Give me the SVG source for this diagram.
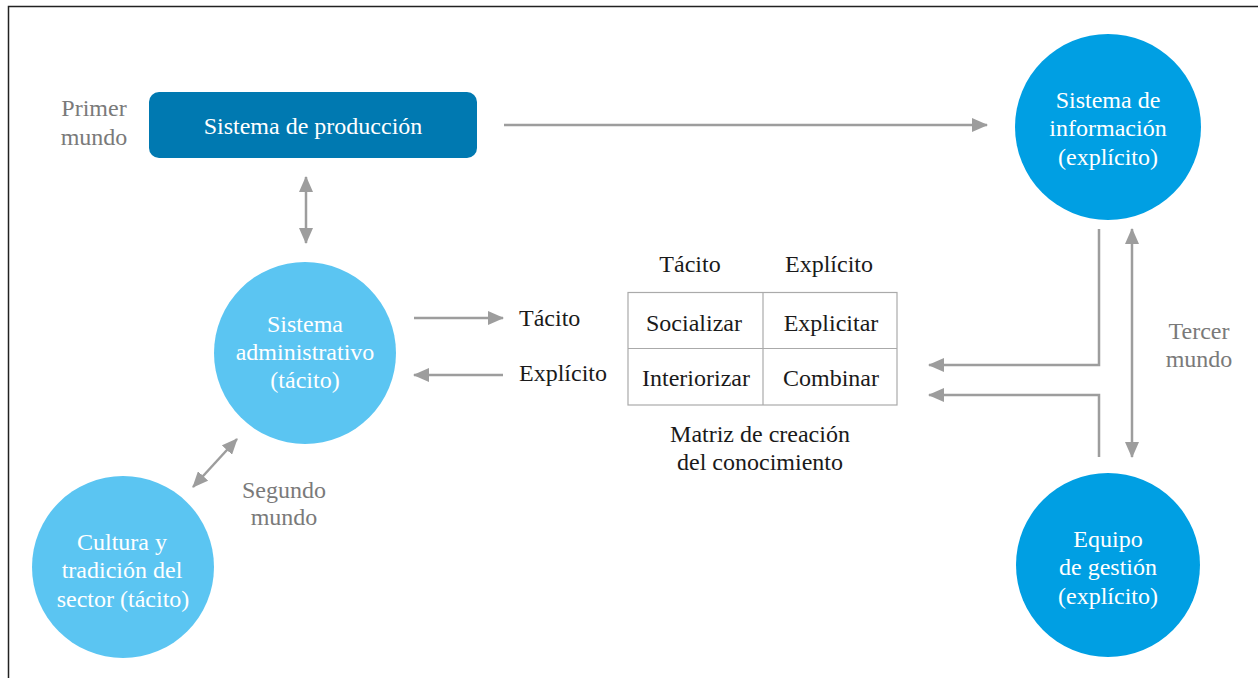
<svg xmlns="http://www.w3.org/2000/svg" width="1258" height="678" viewBox="0 0 1258 678">
<defs>
<marker id="ah" viewBox="0 0 16 14" refX="15" refY="7" markerWidth="16" markerHeight="14" markerUnits="userSpaceOnUse" orient="auto-start-reverse">
<path d="M0,0 L16,7 L0,14 Z" fill="#9d9d9d"/>
</marker>
</defs>
<style>
text{font-family:'Liberation Serif',Tinos,'Times New Roman','DejaVu Serif',serif;font-size:24px;text-anchor:middle}
.w{fill:#ffffff}
.k{fill:#1a1a1a}
.g{fill:#7a7a7a}
.s{text-anchor:start}
.c{stroke:#9d9d9d;stroke-width:2.5;fill:none}
.t{stroke:#aaaaaa;stroke-width:1.2;fill:none}
</style>
<rect width="1258" height="678" fill="#ffffff"/>
<path d="M8.5,678 V6.5 H1258" stroke="#222" stroke-width="1.5" fill="none"/>

<g id="connectors">
<line class="c" x1="504" y1="125" x2="987" y2="125" marker-end="url(#ah)"/>
<line class="c" x1="306" y1="177" x2="306" y2="243" marker-start="url(#ah)" marker-end="url(#ah)"/>
<line class="c" x1="414" y1="318" x2="503" y2="318" marker-end="url(#ah)"/>
<line class="c" x1="503" y1="375" x2="414" y2="375" marker-end="url(#ah)"/>
<line class="c" x1="237" y1="439" x2="193" y2="487" marker-start="url(#ah)" marker-end="url(#ah)"/>
<polyline class="c" points="1099,229 1099,365 929,365" marker-end="url(#ah)"/>
<polyline class="c" points="1099,457 1099,395 929,395" marker-end="url(#ah)"/>
<line class="c" x1="1132" y1="229" x2="1132" y2="457" marker-start="url(#ah)" marker-end="url(#ah)"/>
</g>

<g id="labels">
<text class="g" x="94" y="116">Primer</text>
<text class="g" x="94" y="145">mundo</text>
<text class="g" x="284" y="498">Segundo</text>
<text class="g" x="284" y="525">mundo</text>
<text class="g" x="1199" y="339">Tercer</text>
<text class="g" x="1199" y="367">mundo</text>
<text class="k s" x="519" y="326">Tácito</text>
<text class="k s" x="519" y="381">Explícito</text>
</g>

<g id="produccion">
<rect x="149" y="92" width="328" height="66" rx="10" fill="#0079b1"/>
<text class="w" x="313" y="134">Sistema de producción</text>
</g>

<g id="informacion">
<circle cx="1108" cy="127" r="93" fill="#009fe3"/>
<text class="w" x="1108" y="108">Sistema de</text>
<text class="w" x="1108" y="136">información</text>
<text class="w" x="1108" y="165">(explícito)</text>
</g>

<g id="administrativo">
<circle cx="305" cy="353" r="91" fill="#5bc5f2"/>
<text class="w" x="305" y="332">Sistema</text>
<text class="w" x="305" y="360">administrativo</text>
<text class="w" x="305" y="388">(tácito)</text>
</g>

<g id="cultura">
<circle cx="123" cy="567" r="91" fill="#5bc5f2"/>
<text class="w" x="122" y="550">Cultura y</text>
<text class="w" x="122" y="578">tradición del</text>
<text class="w" x="123" y="607">sector (tácito)</text>
</g>

<g id="gestion">
<circle cx="1108" cy="565" r="92" fill="#009fe3"/>
<text class="w" x="1108" y="547">Equipo</text>
<text class="w" x="1108" y="575">de gestión</text>
<text class="w" x="1108" y="604">(explícito)</text>
</g>

<g id="matriz">
<text class="k" x="690" y="272">Tácito</text>
<text class="k" x="829" y="272">Explícito</text>
<rect class="t" x="628" y="292.5" width="269" height="112.5"/>
<line class="t" x1="763" y1="292.5" x2="763" y2="405"/>
<line class="t" x1="628" y1="348.5" x2="897" y2="348.5"/>
<text class="k" x="694" y="331">Socializar</text>
<text class="k" x="831" y="331">Explicitar</text>
<text class="k" x="696" y="386">Interiorizar</text>
<text class="k" x="831" y="386">Combinar</text>
<text class="k" x="760" y="442">Matriz de creación</text>
<text class="k" x="760" y="470">del conocimiento</text>
</g>
</svg>
